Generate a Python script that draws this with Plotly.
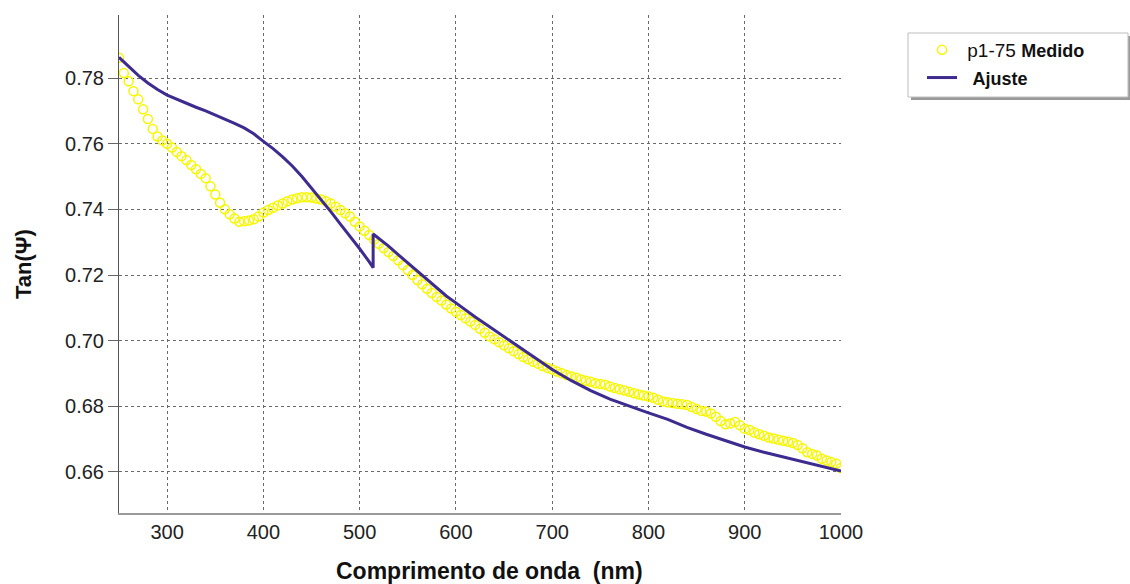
import plotly.graph_objects as go

# Measured data (p1-75 Medido), every 5 nm
wl_meas = list(range(250, 1001, 5))
tan_meas = [
    0.7862, 0.7815, 0.7790, 0.7760, 0.7735, 0.7705, 0.7675, 0.7645, 0.7622, 0.7610,  # 250-295
    0.7600, 0.7588, 0.7575, 0.7562, 0.7550, 0.7535, 0.7522, 0.7508, 0.7495, 0.7470,  # 300-345
    0.7445, 0.7420, 0.7400, 0.7385, 0.7372, 0.7362, 0.7364, 0.7366, 0.7370, 0.7378,  # 350-395
    0.7390, 0.7398, 0.7405, 0.7412, 0.7418, 0.7425, 0.7430, 0.7434, 0.7437, 0.7437,  # 400-445
    0.7436, 0.7433, 0.7430, 0.7425, 0.7418, 0.7408, 0.7398, 0.7388, 0.7378, 0.7362,  # 450-495
    0.7348, 0.7335, 0.7322, 0.7308, 0.7295, 0.7282, 0.7270, 0.7258, 0.7245, 0.7230,  # 500-545
    0.7215, 0.7200, 0.7185, 0.7172, 0.7158, 0.7145, 0.7133, 0.7122, 0.7110, 0.7098,  # 550-595
    0.7088, 0.7078, 0.7068, 0.7058, 0.7048, 0.7036, 0.7024, 0.7013, 0.7004, 0.6995,  # 600-645
    0.6986, 0.6977, 0.6968, 0.6959, 0.6950, 0.6943, 0.6936, 0.6930, 0.6923, 0.6917,  # 650-695
    0.6912, 0.6906, 0.6901, 0.6895, 0.6891, 0.6887, 0.6882, 0.6878, 0.6875, 0.6870,  # 700-745
    0.6868, 0.6866, 0.6860, 0.6856, 0.6852, 0.6848, 0.6844, 0.6840, 0.6836, 0.6833,  # 750-795
    0.6830, 0.6826, 0.6820, 0.6815, 0.6812, 0.6810, 0.6808, 0.6806, 0.6804, 0.6798,  # 800-845
    0.6792, 0.6786, 0.6784, 0.6778, 0.6768, 0.6755, 0.6745, 0.6748, 0.6752, 0.6742,  # 850-895
    0.6732, 0.6728, 0.6720, 0.6715, 0.6710, 0.6705, 0.6702, 0.6698, 0.6695, 0.6692,  # 900-945
    0.6688, 0.6682, 0.6672, 0.6660, 0.6655, 0.6650, 0.6640, 0.6635, 0.6630, 0.6625,  # 950-995
    0.6612,                                                                          # 1000
]

# Fitted curve (Ajuste)
wl_fit = [250, 260, 270, 280, 290, 300, 310, 320, 330, 340, 350, 360, 370, 380, 390,
          400, 410, 420, 430, 440, 450, 460, 470, 480, 490, 500, 510, 514, 514, 520,
          530, 540, 550, 560, 570, 580, 590, 600, 610, 620, 630, 640, 650, 660, 670,
          680, 690, 700, 720, 740, 760, 780, 800, 820, 840, 860, 880, 900, 920, 940,
          960, 980, 1000]
tan_fit = [0.7863, 0.7835, 0.7808, 0.7785, 0.7765, 0.7748, 0.7735, 0.7722, 0.7711, 0.7700,
           0.7688, 0.7675, 0.7662, 0.7648, 0.7630, 0.7607, 0.7585, 0.7560, 0.7532, 0.7500,
           0.7465, 0.7430, 0.7393, 0.7355, 0.7318, 0.7280, 0.7240, 0.7222, 0.7325, 0.7312,
           0.7288, 0.7262, 0.7237, 0.7212, 0.7185, 0.7160, 0.7136, 0.7115, 0.7093, 0.7072,
           0.7052, 0.7032, 0.7012, 0.6992, 0.6970, 0.6950, 0.6930, 0.6912, 0.6878, 0.6848,
           0.6822, 0.6800, 0.6780, 0.6760, 0.6736, 0.6715, 0.6695, 0.6676, 0.6660, 0.6646,
           0.6632, 0.6618, 0.6603]

x_ticks = [300, 400, 500, 600, 700, 800, 900, 1000]
y_ticks = [0.66, 0.68, 0.70, 0.72, 0.74, 0.76, 0.78]

FONT = "Arial, Liberation Sans, sans-serif"

fig = go.Figure()
fig.add_trace(go.Scatter(
    x=wl_meas, y=tan_meas, mode="markers",
    name="&nbsp;p1-75 <b><span style='font-size:18px'>Medido</span></b>",
    marker=dict(symbol="circle-open", size=9, color="#f7f700",
                line=dict(color="#f7f700", width=1.5)),
))
fig.add_trace(go.Scatter(
    x=wl_fit, y=tan_fit, mode="lines",
    name="&nbsp;&nbsp;<b><span style='font-size:18px'>Ajuste</span></b>",
    line=dict(color="#3d2b90", width=3),
))

W, H = 1130, 584
L, R, T, B = 119, 841, 15, 513
pw, ph = R - L, B - T

def px(x):
    return (x - L) / pw

def py(y):
    return (B - y) / ph

fig.update_layout(
    width=W, height=H,
    margin=dict(l=L, r=W - R, t=T, b=H - B),
    paper_bgcolor="white", plot_bgcolor="white",
    font=dict(family=FONT, color="#222", size=20),
    showlegend=True,
    legend=dict(x=px(922), y=py(31), xanchor="left", yanchor="top",
                bgcolor="rgba(0,0,0,0)", borderwidth=0,
                font=dict(family=FONT, size=19, color="#111"),
                itemsizing="trace", tracegroupgap=0),
    xaxis=dict(range=[250, 1000], tickvals=x_ticks, ticks="",
               showgrid=True, gridcolor="#6a6a6a", griddash="dot", gridwidth=1,
               showline=True, linecolor="#9a9a9a", linewidth=2,
               zeroline=False, tickfont=dict(size=20, color="#222")),
    yaxis=dict(range=[0.6475, 0.7992], tickvals=y_ticks, tickformat=".2f",
               ticks="outside", ticklen=10, tickcolor="#666",
               showgrid=True, gridcolor="#6a6a6a", griddash="dot", gridwidth=1,
               showline=True, linecolor="#555", linewidth=1,
               zeroline=False, tickfont=dict(size=20, color="#222")),
    shapes=[
        dict(type="rect", xref="paper", yref="paper",
             x0=px(911), x1=px(1131), y0=py(100), y1=py(36),
             fillcolor="#9a9a9a", line=dict(width=0), layer="below"),
        dict(type="rect", xref="paper", yref="paper",
             x0=px(908), x1=px(1128), y0=py(97), y1=py(33),
             fillcolor="white", line=dict(color="#bdbdbd", width=1), layer="below"),
    ],
    annotations=[
        dict(text="<b>Comprimento de onda&nbsp;&nbsp;(nm)</b>", xref="paper", yref="paper",
             x=px(489), y=py(571), xanchor="center", yanchor="middle",
             showarrow=False, font=dict(size=23, color="#111", family=FONT)),
        dict(text="<b>Tan(Ψ)</b>", xref="paper", yref="paper",
             x=px(23), y=py(264), xanchor="center", yanchor="middle",
             textangle=-90, showarrow=False, font=dict(size=22, color="#111", family=FONT)),
    ],
)

fig.write_html("out.html", config={"displayModeBar": False},
               post_script="document.body.style.margin='0';")
